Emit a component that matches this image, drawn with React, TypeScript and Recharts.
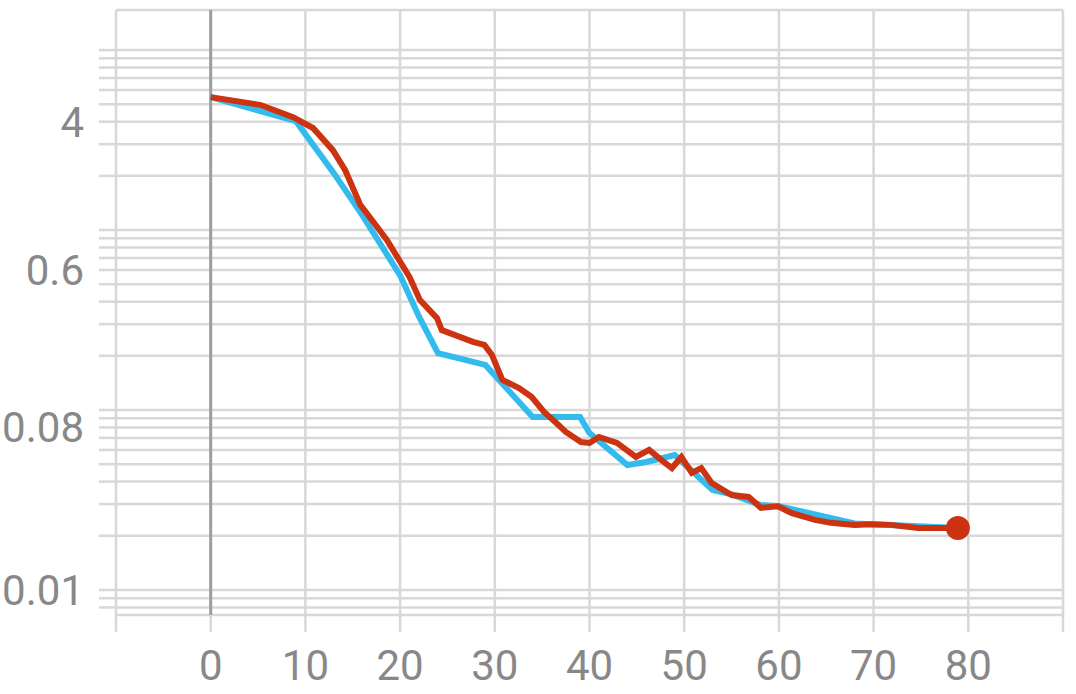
import React from 'react';
import { LineChart, Line, XAxis, YAxis, CartesianGrid, ReferenceLine } from 'recharts';

const blueSteps = [0, 9, 13, 16, 20, 22, 24, 29, 34, 39, 40, 44, 46, 49, 53, 55, 58, 60, 68, 79];
const blueLoss = [5.48, 4.03, 2.07, 1.21, 0.56, 0.33, 0.207, 0.178, 0.0915, 0.0915, 0.0745, 0.0495, 0.0514, 0.0562, 0.0359, 0.034, 0.0297, 0.0292, 0.0234, 0.0221];

const redSteps = [0, 5.3, 8.7, 10.8, 12.9, 14.2, 15.8, 17.4, 18.6, 21.0, 22.1, 23.9, 24.4, 27.7, 28.9, 29.7, 30.8, 32.6, 33.9, 35.2, 36.5, 37.5, 39.1, 40.0, 41.0, 42.9, 44.9, 46.3, 47.6, 48.7, 49.7, 50.8, 51.8, 52.9, 55.0, 56.8, 58.1, 59.9, 61.3, 63.8, 65.5, 68.0, 69.7, 71.8, 74.7, 78.9];
const redLoss = [5.48, 4.95, 4.24, 3.69, 2.78, 2.15, 1.38, 1.07, 0.88, 0.548, 0.408, 0.324, 0.278, 0.239, 0.23, 0.202, 0.147, 0.132, 0.118, 0.0975, 0.0847, 0.0755, 0.0664, 0.0656, 0.0708, 0.0656, 0.0548, 0.06, 0.0527, 0.0476, 0.0548, 0.0447, 0.0476, 0.0393, 0.0337, 0.0329, 0.0286, 0.0292, 0.0268, 0.0245, 0.0236, 0.023, 0.0232, 0.023, 0.0221, 0.0221];

const xTicks = [-10, 0, 10, 20, 30, 40, 50, 60, 70, 80, 90];
const xLabels = [0, 10, 20, 30, 40, 50, 60, 70, 80];
const yTicks = [10, 9, 8, 7, 6, 5, 4, 3, 2, 1, 0.9, 0.8, 0.7, 0.6, 0.5, 0.4, 0.3, 0.2, 0.1, 0.09, 0.08, 0.07, 0.06, 0.05, 0.04, 0.03, 0.02, 0.01, 0.009, 0.008];
const yLabels = [4, 0.6, 0.08, 0.01];

const blueData = blueSteps.map((s, i) => ({ step: s, loss: blueLoss[i] }));
const redData = redSteps.map((s, i) => ({ step: s, loss: redLoss[i] }));

const BLUE = '#33bbee';
const RED = '#cc3311';
const GRID = '#d8d8d8';
const TEXT = '#888888';

const tickStyle = { fontFamily: 'Roboto', fontSize: 42, fill: TEXT };

const LastDot = (props: any) => {
  const { cx, cy, index } = props;
  if (index !== redData.length - 1) return <g key={`d${index}`} />;
  return <circle key={`d${index}`} cx={cx} cy={cy} r={12} fill={RED} stroke="none" />;
};

export default function App() {
  return (
    <div style={{ width: 1076, height: 694 }}>
      <style>{`body{margin:0;} .recharts-wrapper, .recharts-surface{overflow:visible !important;}`}</style>
      <LineChart width={1068} height={694} margin={{ top: 10, right: 5, bottom: 0, left: 0 }}>
        <CartesianGrid stroke={GRID} strokeWidth={2.5} />
        <XAxis
          dataKey="step"
          type="number"
          domain={[-10, 90]}
          ticks={xTicks}
          interval={0}
          allowDataOverflow
          axisLine={false}
          tickLine={{ stroke: GRID, strokeWidth: 2.5 }}
          tickSize={17}
          tickMargin={18}
          height={79}
          tick={tickStyle}
          tickFormatter={(v: number) => (xLabels.includes(v) ? String(v) : '')}
        />
        <YAxis
          dataKey="loss"
          type="number"
          scale="log"
          domain={[0.00726, 16.7]}
          allowDataOverflow
          ticks={yTicks}
          interval={0}
          axisLine={false}
          tickLine={{ stroke: GRID, strokeWidth: 2.5 }}
          tickSize={17}
          tickMargin={15}
          width={116}
          tick={tickStyle}
          tickFormatter={(v: number) => (yLabels.includes(v) ? String(v) : '')}
        />
        <ReferenceLine x={0} stroke="#9e9e9e" strokeWidth={3} />
        <Line
          data={blueData}
          dataKey="loss"
          type="linear"
          stroke={BLUE}
          strokeWidth={6}
          dot={false}
          isAnimationActive={false}
        />
        <Line
          data={redData}
          dataKey="loss"
          type="linear"
          stroke={RED}
          strokeWidth={6}
          dot={LastDot}
          activeDot={false}
          isAnimationActive={false}
        />
      </LineChart>
    </div>
  );
}
